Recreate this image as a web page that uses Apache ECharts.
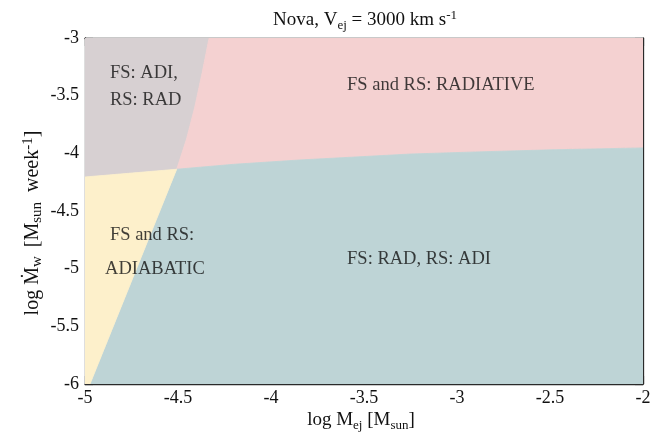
<!DOCTYPE html>
<html><head><meta charset="utf-8">
<script src="https://cdn.jsdelivr.net/npm/echarts@6/dist/echarts.min.js"></script>
<style>html,body{margin:0;padding:0;background:#fff}#c{width:656px;height:432px}</style>
</head><body><div id="c"></div>
<script>
// Axis ticks
var xTicks = [-5, -4.5, -4, -3.5, -3, -2.5, -2];
var yTicks = [-6, -5.5, -5, -4.5, -4, -3.5, -3];

// Boundary curves (log Mej, log Mw)
var junction = [-4.507, -4.138];
var grayPinkBoundary = [[-4.333, -3.0], [-4.37, -3.3], [-4.41, -3.6], [-4.455, -3.88], [-4.507, -4.138]];
var pinkTealBoundary = [[-4.507, -4.138], [-4.2, -4.095], [-3.85, -4.058], [-3.25, -4.006], [-2.9, -3.988], [-2.5, -3.97], [-2.0, -3.953]];
var grayYellowBoundary = [[-5.0, -4.205], [-4.507, -4.138]];
var yellowTealBoundary = [[-4.507, -4.138], [-4.973, -6.0]];

// Region polygons built from boundaries
var regionGray = [[-5, -3]].concat(grayPinkBoundary, [[-5, -4.205]]);
var regionPink = [[-4.333, -3], [-2, -3]].concat(pinkTealBoundary.slice().reverse(), grayPinkBoundary.slice().reverse());
var regionTeal = pinkTealBoundary.concat([[-2, -6]], yellowTealBoundary.slice().reverse());
var regionYellow = grayYellowBoundary.concat(yellowTealBoundary.slice(1), [[-5, -6]]);
var regions = [regionGray, regionPink, regionTeal, regionYellow];
var regionColors = ['#d7d0d2', '#f4d1d1', '#bed4d6', '#fdf0cb'];

// Region annotations
var annotations = [
  {text: 'FS: ADI,', pos: [-4.866, -3.303]},
  {text: 'RS: RAD', pos: [-4.866, -3.538]},
  {text: 'FS and RS: RADIATIVE', pos: [-3.591, -3.408]},
  {text: 'FS and RS:', pos: [-4.866, -4.708]},
  {text: 'ADIABATIC', pos: [-4.892, -5.003]},
  {text: 'FS: RAD, RS: ADI', pos: [-3.591, -4.916]}
];

var serif = 'Liberation Serif';
var lineCol = '#2a2a2a';
var txtCol = '#111111';

function makeAxis(pos, isX, showLabels) {
  return {
    type: 'value', position: pos,
    min: isX ? -5 : -6, max: isX ? -2 : -3, interval: 0.5,
    axisLine: {show: true, onZero: false, lineStyle: {color: lineCol, width: 1.3}},
    axisTick: {show: true, inside: true, length: 8, lineStyle: {color: lineCol, width: 1.2}},
    axisLabel: {show: showLabels, color: txtCol, fontFamily: serif, fontSize: 18, margin: isX ? 5 : 6,
      formatter: function (v) { return String(v); }},
    splitLine: {show: false}
  };
}

var subStyle = {fontFamily: serif, fontSize: 13, color: txtCol, padding: [10, 0, 0, 0]};
var supStyle = {fontFamily: serif, fontSize: 13, color: txtCol, padding: [0, 0, 9, 0]};

var chart = echarts.init(document.getElementById('c'));
var xMain = makeAxis('bottom', true, true);
xMain.name = 'log M{sub|ej} [M{sub|sun}]';
xMain.nameLocation = 'middle';
xMain.nameGap = 25;
xMain.nameMoveOverlap = false;
xMain.nameTextStyle = {fontFamily: serif, fontSize: 19, color: txtCol, padding: [0, 6, 0, 0], rich: {sub: subStyle}};
var yMain = makeAxis('left', false, true);
yMain.name = 'log {dot|Ṁ}{subw|w} [M{sub|sun} week{sup|-1}]';
yMain.nameLocation = 'middle';
yMain.nameGap = 40;
yMain.nameMoveOverlap = false;
yMain.nameTextStyle = {fontFamily: serif, fontSize: 20, color: txtCol, padding: [0, 24, 0, 0],
  rich: {
    dot: {fontFamily: serif, fontSize: 20, color: txtCol},
    sub: {fontFamily: serif, fontSize: 15, color: txtCol, padding: [10, 5, 0, 0]},
    subw: {fontFamily: serif, fontSize: 15, color: txtCol, padding: [10, 4, 0, 0]},
    sup: {fontFamily: serif, fontSize: 15, color: txtCol, padding: [0, 0, 9, 0]}
  }};

chart.setOption({
  animation: false,
  backgroundColor: '#fff',
  title: {
    text: 'Nova, V{sub|ej} = 3000 km s{sup|-1}',
    left: 360, top: 4, textAlign: 'center',
    textStyle: {fontFamily: serif, fontSize: 19, fontWeight: 'normal', color: txtCol,
      rich: {sub: subStyle, sup: supStyle}}
  },
  grid: {left: 85, right: 13, top: 38, bottom: 48, containLabel: false, outerBoundsMode: 'none'},
  xAxis: [xMain, makeAxis('top', true, false)],
  yAxis: [yMain, makeAxis('right', false, false)],
  series: [
    {
      type: 'custom', xAxisIndex: 0, yAxisIndex: 0, clip: true,
      data: regions.map(function (r, i) { return [i]; }),
      renderItem: function (params, api) {
        var i = params.dataIndex;
        var pts = regions[i].map(function (p) { return api.coord(p); });
        return {type: 'polygon', shape: {points: pts},
          style: {fill: regionColors[i], stroke: regionColors[i], lineWidth: 0.8}};
      },
      silent: true, z: 1
    },
    {
      type: 'scatter', xAxisIndex: 0, yAxisIndex: 0, symbolSize: 0, silent: true, z: 5,
      data: annotations.map(function (a) { return {value: a.pos, name: a.text}; }),
      label: {show: true, position: [0, 0], align: 'left', verticalAlign: 'middle',
        fontFamily: serif, fontSize: 18.5, color: txtCol,
        formatter: function (p) { return p.name; }}
    }
  ]
});
</script></body></html>
